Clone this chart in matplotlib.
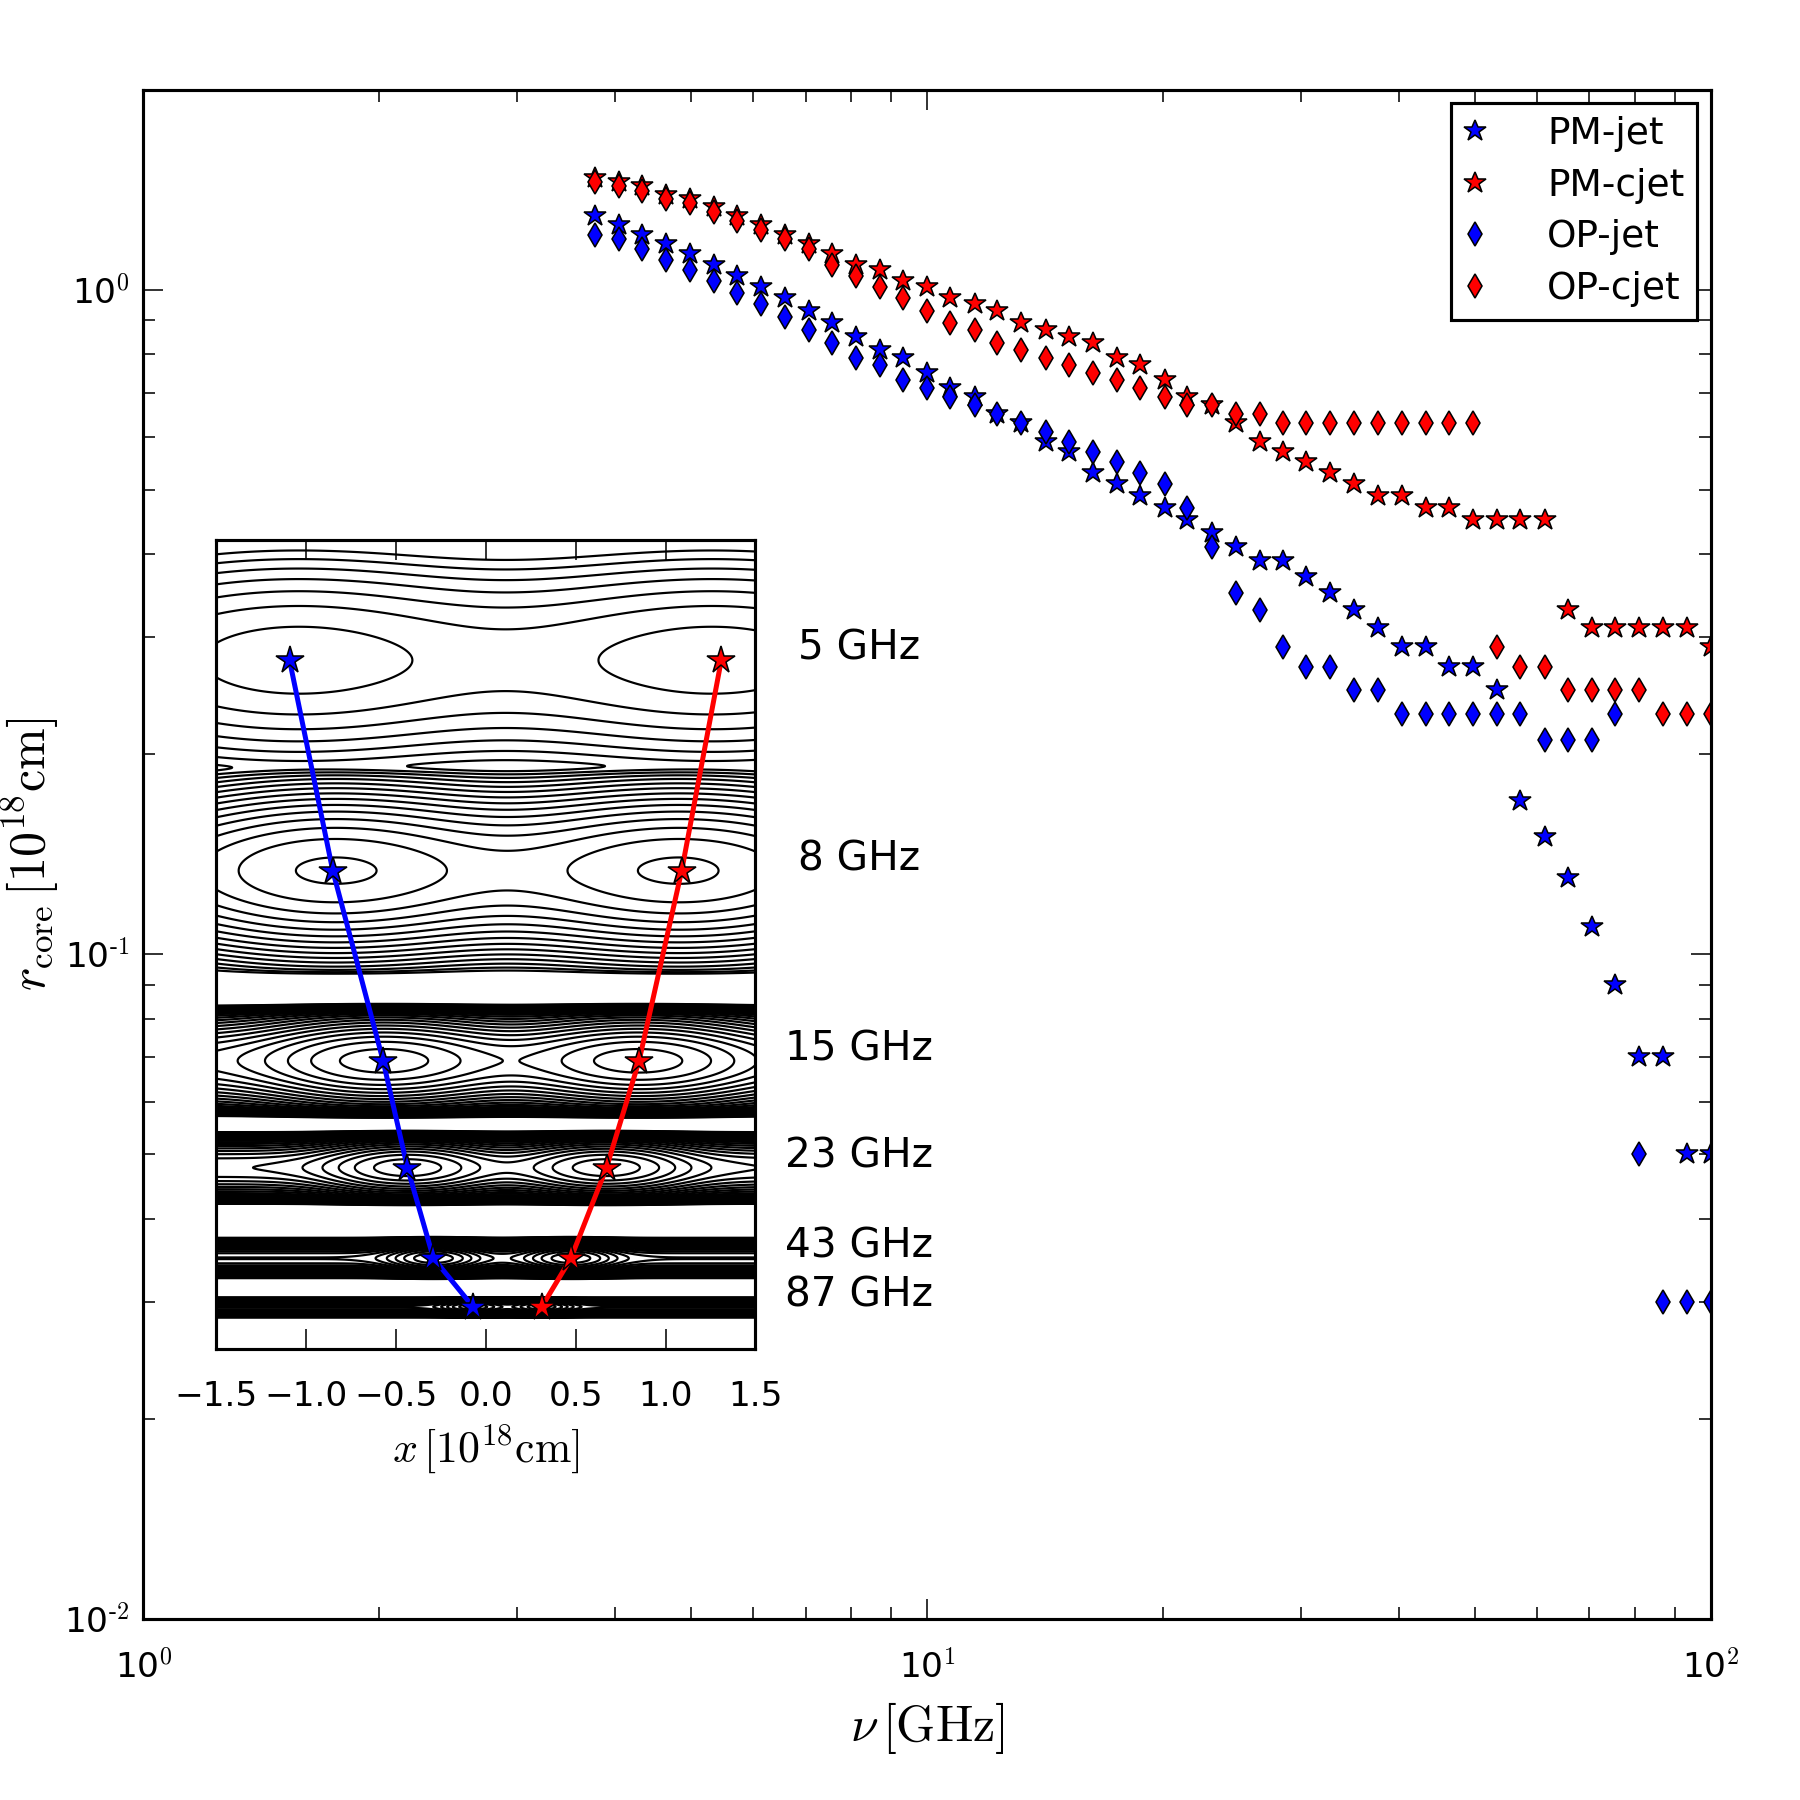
import numpy as np
import matplotlib
matplotlib.use('Agg')
import matplotlib.pyplot as plt
from matplotlib.ticker import FuncFormatter, NullFormatter, LogLocator

plt.rcParams['mathtext.fontset'] = 'cm'
plt.rcParams['font.family'] = ['DejaVu Sans']
plt.rcParams['xtick.direction'] = 'in'
plt.rcParams['ytick.direction'] = 'in'
plt.rcParams['xtick.top'] = True
plt.rcParams['ytick.right'] = True
plt.rcParams['axes.linewidth'] = 1.0

# observing frequencies [GHz]
nu = [3.77, 4.04, 4.33, 4.64, 4.98, 5.34, 5.72, 6.14, 6.58, 7.06, 7.57, 8.11, 8.70, 9.33,
      10.0, 10.7, 11.5, 12.3, 13.2, 14.2, 15.2, 16.3, 17.5, 18.7, 20.1, 21.5, 23.1, 24.8,
      26.6, 28.5, 30.5, 32.7, 35.1, 37.6, 40.4, 43.3, 46.4, 49.8, 53.4, 57.2, 61.4, 65.8,
      70.5, 75.6, 81.1, 87.0, 93.3, 100.0]

# core distance [1e18 cm]
pm_jet = [1.29, 1.25, 1.21, 1.17, 1.13, 1.09, 1.05, 1.01, 0.97, 0.93, 0.89, 0.85, 0.81, 0.79,
          0.75, 0.71, 0.69, 0.65, 0.63, 0.59, 0.57, 0.53, 0.51, 0.49, 0.47, 0.45, 0.43, 0.41,
          0.39, 0.39, 0.37, 0.35, 0.33, 0.31, 0.29, 0.29, 0.27, 0.27, 0.25, 0.17, 0.15, 0.13,
          0.11, 0.09, 0.07, 0.07, 0.05, 0.05]
pm_cjet = [1.47, 1.45, 1.43, 1.39, 1.37, 1.33, 1.29, 1.25, 1.21, 1.17, 1.13, 1.09, 1.07, 1.03,
           1.01, 0.97, 0.95, 0.93, 0.89, 0.87, 0.85, 0.83, 0.79, 0.77, 0.73, 0.69, 0.67, 0.63,
           0.59, 0.57, 0.55, 0.53, 0.51, 0.49, 0.49, 0.47, 0.47, 0.45, 0.45, 0.45, 0.45, 0.33,
           0.31, 0.31, 0.31, 0.31, 0.31, 0.29]
op_jet = [1.21, 1.19, 1.15, 1.11, 1.07, 1.03, 0.99, 0.95, 0.91, 0.87, 0.83, 0.79, 0.77, 0.73,
          0.71, 0.69, 0.67, 0.65, 0.63, 0.61, 0.59, 0.57, 0.55, 0.53, 0.51, 0.47, 0.41, 0.35,
          0.33, 0.29, 0.27, 0.27, 0.25, 0.25, 0.23, 0.23, 0.23, 0.23, 0.23, 0.23, 0.21, 0.21,
          0.21, 0.23, 0.05, 0.03, 0.03, 0.03]
op_cjet = [1.45, 1.43, 1.41, 1.37, 1.35, 1.31, 1.27, 1.23, 1.19, 1.15, 1.09, 1.05, 1.01, 0.97,
           0.93, 0.89, 0.87, 0.83, 0.81, 0.79, 0.77, 0.75, 0.73, 0.71, 0.69, 0.67, 0.67, 0.65,
           0.65, 0.63, 0.63, 0.63, 0.63, 0.63, 0.63, 0.63, 0.63, 0.63, 0.29, 0.27, 0.27, 0.25,
           0.25, 0.25, 0.25, 0.23, 0.23, 0.23]

# inset: core positions of the maps
band_labels = ['5 GHz', '8 GHz', '15 GHz', '23 GHz', '43 GHz', '87 GHz']
jet_x = [-1.09, -0.85, -0.57, -0.435, -0.29, -0.07]
cjet_x = [1.31, 1.09, 0.853, 0.672, 0.474, 0.312]
core_z = [0.851, 0.591, 0.356, 0.224, 0.112, 0.052]

# map strips (model of the stacked intensity maps)
band_lo = [0.716, 0.460, 0.293, 0.185, 0.093, 0.042]
band_hi = [1.10, 0.716, 0.419, 0.262, 0.132, 0.060]
band_sig = [0.086, 0.058, 0.030, 0.0196, 0.010, 0.005]
band_peak = [-3.46, -2.84, -1.5, -1.0, -0.5, 0.0]
band_t = [0.003, 0.003, 0.0025, 0.0018, 0.0014, 0.0006]
blob_w = [0.85, 0.62, 0.4, 0.28, 0.15, 0.1]
BLOB_C0 = 0.5


def sigmoid(a):
    return 0.5 * (1 + np.tanh(0.5 * a))


def band_field(xx, zz, i):
    xs = (BLOB_C0 + np.exp(-0.5 * ((xx - jet_x[i]) / blob_w[i]) ** 2)
          + np.exp(-0.5 * ((xx - cjet_x[i]) / blob_w[i]) ** 2))
    xs = xs / xs.max()
    prof = np.exp(-0.5 * ((zz - core_z[i]) / band_sig[i]) ** 2)
    edge = sigmoid((zz - band_lo[i]) / band_t[i]) * sigmoid((band_hi[i] - zz) / band_t[i])
    return 10 ** band_peak[i] * xs * prof * edge


fig = plt.figure(figsize=(8, 8), dpi=225)
ax = fig.add_axes([0.0797, 0.1008, 0.8706, 0.8494])

ax.plot(nu, pm_jet, ls='none', marker='*', ms=7.3, mfc='b', mec='k', mew=0.5, label='PM-jet')
ax.plot(nu, pm_cjet, ls='none', marker='*', ms=7.3, mfc='r', mec='k', mew=0.5, label='PM-cjet')
ax.plot(nu, op_jet, ls='none', marker='d', ms=5.6, mfc='b', mec='k', mew=0.5, label='OP-jet')
ax.plot(nu, op_cjet, ls='none', marker='d', ms=5.6, mfc='r', mec='k', mew=0.5, label='OP-cjet')

ax.set_xscale('log')
ax.set_yscale('log')
ax.set_xlim(1, 100)
ax.set_ylim(0.01, 2.0)


def pow_fmt(v, pos):
    e = int(round(np.log10(v)))
    return r'$\mathdefault{10^{\text{%d}}}$' % e


for axis in (ax.xaxis, ax.yaxis):
    axis.set_major_locator(LogLocator(base=10))
    axis.set_major_formatter(FuncFormatter(pow_fmt))
    axis.set_minor_locator(LogLocator(base=10, subs=np.arange(2, 10)))
    axis.set_minor_formatter(NullFormatter())

ax.tick_params(which='major', length=6.5, width=0.5, labelsize=11)
ax.tick_params(which='minor', length=3.8, width=0.5)
ax.tick_params(axis='x', which='major', pad=10)
ax.tick_params(axis='y', which='major', pad=4.5)

ax.set_xlabel(r'$\nu\,[{\rm GHz}]$', fontsize=16, labelpad=5)
ax.set_ylabel(r'$r_{\rm core}\,[10^{18}{\rm cm}]$', fontsize=16, labelpad=1)

leg = ax.legend(loc='upper right', numpoints=1, fontsize=12, borderpad=0.35,
                handlelength=0.55, handletextpad=1.65, labelspacing=0.42,
                borderaxespad=0.35, fancybox=False, edgecolor='black', framealpha=1)
leg.get_frame().set_linewidth(1.0)

# inset with the stacked maps
axin = fig.add_axes([0.1199, 0.2506, 0.2998, 0.4496])
xg = np.linspace(-1.5, 1.5, 601)
zg = np.linspace(0, 1, 2001)
XX, ZZ = np.meshgrid(xg, zg)
field = sum(band_field(XX, ZZ, i) for i in range(len(band_labels)))
levels = np.logspace(-4, 0, 50)
axin.contour(XX, ZZ, field, levels=levels, colors='k', linewidths=0.7)

axin.plot(jet_x, core_z, color='b', lw=1.6)
axin.plot(cjet_x, core_z, color='r', lw=1.6)
axin.plot(jet_x, core_z, ls='none', marker='*', ms=9.2, mfc='b', mec='k', mew=0.5)
axin.plot(cjet_x, core_z, ls='none', marker='*', ms=9.2, mfc='r', mec='k', mew=0.5)

for lab, z in zip(band_labels, core_z):
    axin.text(2.074, z + 0.014, lab, fontsize=13, ha='center', va='center', clip_on=False)

axin.set_xlim(-1.5, 1.5)
axin.set_ylim(0, 1)
axin.set_xticks([-1.5, -1.0, -0.5, 0.0, 0.5, 1.0, 1.5])
axin.set_yticks([])
axin.tick_params(axis='x', which='major', length=6.5, width=0.5, labelsize=11, pad=10,
                 top=True, direction='in')
axin.set_xlabel(r'$x\,[10^{18}{\rm cm}]$', fontsize=14, labelpad=3)

fig.savefig('out.png', dpi=225, facecolor='white')
